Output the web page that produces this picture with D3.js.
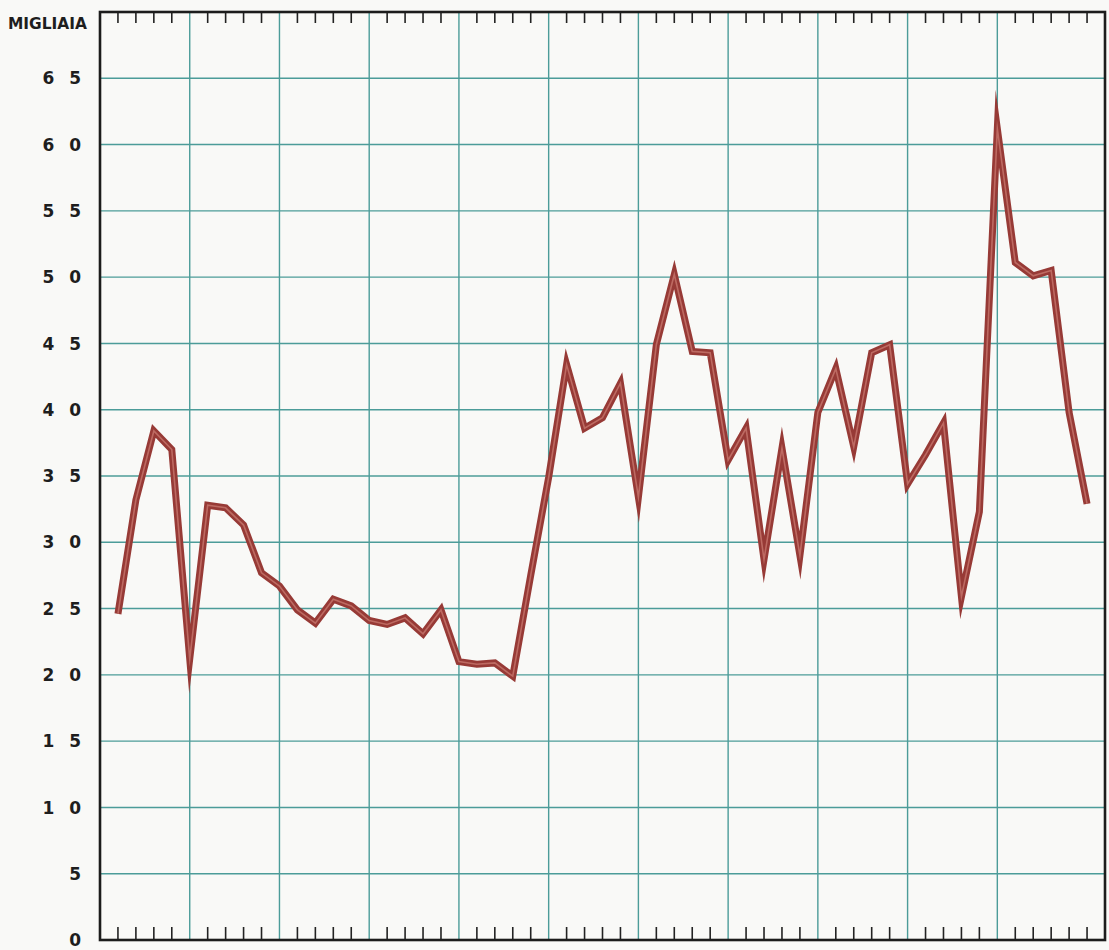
<!DOCTYPE html>
<html>
<head>
<meta charset="utf-8">
<script src="https://cdn.jsdelivr.net/npm/d3@7"></script>
<style>
  body { margin: 0; background: #f9f9f7; }
  svg { display: block; }
</style>
</head>
<body>
<svg id="chart" width="1109" height="950"></svg>
<script>
// monthly values (thousands)
const values = [
  24.6, 33.2, 38.4, 37.0, 21.2, 32.8, 32.6, 31.3, 27.7, 26.7,
  24.9, 23.9, 25.7, 25.2, 24.1, 23.8, 24.3, 23.1, 24.9, 21.0,
  20.8, 20.9, 19.9, 27.5, 34.9, 43.4, 38.6, 39.4, 42.0, 33.4,
  44.9, 50.2, 44.4, 44.3, 36.2, 38.6, 28.7, 37.1, 29.0, 39.8,
  43.1, 37.2, 44.3, 44.9, 34.4, 36.6, 39.0, 25.9, 32.3, 61.2,
  51.1, 50.1, 50.5, 39.8, 32.9
];
const months = d3.range(1, values.length + 1);
const yTicks = [0, 5, 10, 15, 20, 25, 30, 35, 40, 45, 50, 55, 60, 65];
const yTickLabels = ["0", "5", "1 0", "1 5", "2 0", "2 5", "3 0", "3 5", "4 0", "4 5", "5 0", "5 5", "6 0", "6 5"];
const gridMonths = [5, 10, 15, 20, 25, 30, 35, 40, 45, 50];
const unitLabel = "MIGLIAIA";

const svg = d3.select("#chart");

// scales
const x = d3.scaleLinear().domain([0, 56]).range([100, 1105]);
const y = d3.scaleLinear().domain([0, 70]).range([940, 12]);

const gridColor = "#4c9c99";

// horizontal grid
svg.append("g")
  .selectAll("line")
  .data(yTicks.filter(d => d > 0))
  .enter()
  .append("line")
  .attr("x1", x(0)).attr("x2", x(56))
  .attr("y1", d => y(d)).attr("y2", d => y(d))
  .attr("stroke", gridColor)
  .attr("stroke-width", 1.4);

// vertical grid
svg.append("g")
  .selectAll("line")
  .data(gridMonths)
  .enter()
  .append("line")
  .attr("x1", d => x(d)).attr("x2", d => x(d))
  .attr("y1", y(70)).attr("y2", y(0))
  .attr("stroke", gridColor)
  .attr("stroke-width", 1.4);

// ticks top and bottom (not where a grid line sits)
const tickMonths = months.filter(m => !gridMonths.includes(m));
const ticks = svg.append("g").attr("stroke", "#222").attr("stroke-width", 1.6);
ticks.selectAll("line.top")
  .data(tickMonths)
  .enter()
  .append("line")
  .attr("class", "top")
  .attr("x1", d => x(d)).attr("x2", d => x(d))
  .attr("y1", y(70)).attr("y2", y(70) + 11);
ticks.selectAll("line.bot")
  .data(tickMonths)
  .enter()
  .append("line")
  .attr("class", "bot")
  .attr("x1", d => x(d)).attr("x2", d => x(d))
  .attr("y1", y(0)).attr("y2", y(0) - 13);

// frame
svg.append("rect")
  .attr("x", x(0)).attr("y", y(70))
  .attr("width", x(56) - x(0)).attr("height", y(0) - y(70))
  .attr("fill", "none")
  .attr("stroke", "#1c1c1c")
  .attr("stroke-width", 2.6);

// y labels
svg.append("g")
  .selectAll("text")
  .data(yTicks)
  .enter()
  .append("text")
  .attr("x", 81)
  .attr("y", d => y(d))
  .attr("dy", "0.36em")
  .attr("text-anchor", "end")
  .attr("font-family", "DejaVu Sans, sans-serif")
  .attr("font-weight", "bold")
  .attr("font-size", 17)
  .attr("fill", "#1e1e1e")
  .style("white-space", "pre")
  .style("word-spacing", "9px")
  .text((d, i) => yTickLabels[i]);

svg.append("text")
  .attr("x", 8)
  .attr("y", 29)
  .attr("font-family", "DejaVu Sans, sans-serif")
  .attr("font-weight", "bold")
  .attr("font-size", 15)
  .attr("textLength", 79)
  .attr("lengthAdjust", "spacingAndGlyphs")
  .attr("fill", "#1e1e1e")
  .text(unitLabel);

// the series line: dark outer stroke with a lighter core
const line = d3.line()
  .x((d, i) => x(months[i]))
  .y(d => y(d));

svg.append("path")
  .datum(values)
  .attr("d", line)
  .attr("fill", "none")
  .attr("stroke", "#973a36")
  .attr("stroke-width", 7)
  .attr("stroke-linejoin", "miter")
  .attr("stroke-miterlimit", 20);

svg.append("path")
  .datum(values)
  .attr("d", line)
  .attr("fill", "none")
  .attr("stroke", "#bd6a62")
  .attr("stroke-width", 1.6)
  .attr("stroke-linejoin", "miter")
  .attr("stroke-miterlimit", 20);
</script>
</body>
</html>
